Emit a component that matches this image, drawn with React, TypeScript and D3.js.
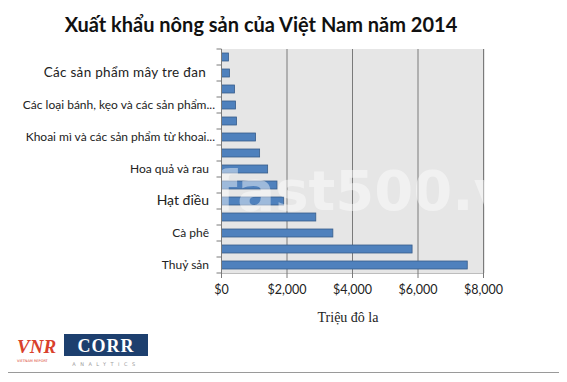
import React from "react";
import * as d3 from "d3";

const categories: string[] = [
  "Chè",
  "Các sản phẩm mây tre đan",
  "Thức ăn gia súc và nguyên liệu",
  "Các loại bánh, kẹo và các sản phẩm từ ngũ cốc",
  "Sản phẩm từ cao su",
  "Khoai mì và các sản phẩm từ khoai mì",
  "Hạt tiêu",
  "Hoa quả và rau",
  "Cao su",
  "Hạt điều",
  "Gạo",
  "Cà phê",
  "Gỗ và sản phẩm gỗ",
  "Thuỷ sản",
];
const values: number[] = [214, 245, 398, 429, 459, 1041, 1164, 1409, 1694, 1899, 2879, 3400, 5819, 7504];
const shownLabels: string[] = [
  "Các sản phẩm mây tre đan",
  "Các loại bánh, kẹo và các sản phẩm...",
  "Khoai mì và các sản phẩm từ khoai...",
  "Hoa quả và rau",
  "Hạt điều",
  "Cà phê",
  "Thuỷ sản",
];
const xTicks: number[] = [0, 2000, 4000, 6000, 8000];
const title = "Xuất khẩu nông sản của Việt Nam năm 2014";
const xTitle = "Triệu đô la";

const W = 567;
const H = 382;

export default function App() {
  const x = d3.scaleLinear().domain([0, 8000]).range([221.5, 483.5]);
  const y = d3.scaleBand<string>().domain(categories).range([49, 273]).paddingInner(0.5).paddingOuter(0.25);
  const step = y.step();
  const top = 49;
  const bottom = 273;
  const fmt = (v: number) => "$" + d3.format(",")(v);
  const font = "Lato, 'Open Sans', sans-serif";

  const labelIdx = categories.map((c, i) => i).filter((i) => i % 2 === 1);

  return (
    <div style={{ margin: -8 }}>
      <svg width={W} height={H} style={{ display: "block", background: "#fff" }}>
        <rect x={5.5} y={2.5} width={554} height={370} fill="#fff" stroke="#9a9a9a" strokeWidth={1} />
        <text x={261} y={32} textAnchor="middle" fontFamily={font} fontWeight={700} fontSize={20} fill="#111">
          {title}
        </text>
        {/* plot background */}
        <rect x={x(0)} y={top} width={x(8000) - x(0) + 1.5} height={bottom - top} fill="#e6e6e6" />
        {xTicks.slice(1).map((t) => (
          <line key={t} x1={x(t)} x2={x(t)} y1={top} y2={bottom} stroke="#7a7a7a" strokeWidth={1} />
        ))}
        {/* bars */}
        {categories.map((c, i) => (
          <rect
            key={c}
            x={x(0)}
            y={y(c)!}
            width={x(values[i]) - x(0)}
            height={y.bandwidth()}
            fill="#4f81bd"
            stroke="#385d8a"
            strokeWidth={0.8}
          />
        ))}
        {/* watermark */}
        <text x={213} y={210} fontFamily="'DejaVu Sans', sans-serif" fontWeight={700} fontSize={56} fill="#ffffff" fillOpacity={0.45}>
          fast500.v
        </text>
        {/* axes */}
        <line x1={x(0)} x2={x(0)} y1={top} y2={bottom + 4} stroke="#7a7a7a" />
        <line x1={x(0)} x2={x(8000)} y1={bottom + 0.5} y2={bottom + 0.5} stroke="#bdbdbd" />
        {d3.range(categories.length + 1).map((i) => (
          <line key={i} x1={x(0) - 5} x2={x(0)} y1={top + i * step} y2={top + i * step} stroke="#7a7a7a" />
        ))}
        {xTicks.map((t) => (
          <line key={t} x1={x(t)} x2={x(t)} y1={bottom} y2={bottom + 5} stroke="#7a7a7a" />
        ))}
        {xTicks.map((t) => (
          <text key={t} x={x(t)} y={294} textAnchor="middle" fontFamily={font} fontSize={12.5} fill="#222">
            {fmt(t)}
          </text>
        ))}
        {labelIdx.map((i, k) => (
          <text
            key={i}
            x={k === 0 ? 206 : k === 1 || k === 2 ? 215 : 209}
            y={y(categories[i])! + y.bandwidth() / 2 + 4}
            textAnchor="end"
            fontFamily={font}
            fontSize={k === 0 ? 13.5 : k === 4 ? 14 : 12}
            letterSpacing={k === 0 ? 0.3 : 0}
            fill="#222"
          >
            {shownLabels[k]}
          </text>
        ))}
        <text x={348} y={322} textAnchor="middle" fontFamily="'Liberation Serif', serif" fontSize={14} fill="#222">
          {xTitle}
        </text>
        {/* logos */}
        <text x={17} y={353} fontFamily="'Liberation Serif', serif" fontStyle="italic" fontWeight={700} fontSize={19} fill="#d9402b">
          VNR
        </text>
        <text x={17} y={362} fontFamily="'DejaVu Sans', sans-serif" fontSize={3.5} fill="#d9402b">
          VIETNAM REPORT
        </text>
        <rect x={64} y={334} width={84} height={22} fill="#1d3f6e" />
        <text x={106} y={352} textAnchor="middle" fontFamily="'Liberation Serif', serif" fontWeight={700} fontSize={18} letterSpacing={1} fill="#fff">
          CORR
        </text>
        <text x={106} y={366} textAnchor="middle" fontFamily="'DejaVu Sans', sans-serif" fontSize={5} letterSpacing={4.5} fill="#999">
          ANALYTICS
        </text>
      </svg>
    </div>
  );
}
